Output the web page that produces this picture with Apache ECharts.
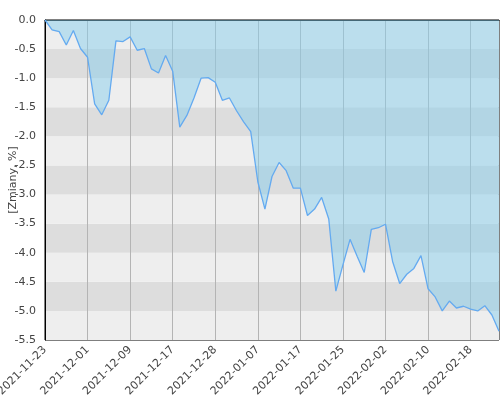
<!DOCTYPE html>
<html>
  <head>
    <meta charset="UTF-8" />
    <title>Zmiany %</title>
    <style>
      html, body { margin: 0; padding: 0; background: #fff; }
      #chart { width: 500px; height: 400px; }
    </style>
    <script type="text/javascript" src="https://cdn.jsdelivr.net/npm/echarts@6/dist/echarts.min.js"></script>
  </head>
  <body>
    <div id="chart"></div>
    <script>
      // dni sesyjne
      const dates = [
        "2021-11-23", "2021-11-24", "2021-11-25", "2021-11-26", "2021-11-29", "2021-11-30",
        "2021-12-01", "2021-12-02", "2021-12-03", "2021-12-06", "2021-12-07", "2021-12-08",
        "2021-12-09", "2021-12-10", "2021-12-13", "2021-12-14", "2021-12-15", "2021-12-16",
        "2021-12-17", "2021-12-20", "2021-12-21", "2021-12-22", "2021-12-23", "2021-12-27",
        "2021-12-28", "2021-12-29", "2021-12-30", "2022-01-03", "2022-01-04", "2022-01-05",
        "2022-01-07", "2022-01-10", "2022-01-11", "2022-01-12", "2022-01-13", "2022-01-14",
        "2022-01-17", "2022-01-18", "2022-01-19", "2022-01-20", "2022-01-21", "2022-01-24",
        "2022-01-25", "2022-01-26", "2022-01-27", "2022-01-28", "2022-01-31", "2022-02-01",
        "2022-02-02", "2022-02-03", "2022-02-04", "2022-02-07", "2022-02-08", "2022-02-09",
        "2022-02-10", "2022-02-11", "2022-02-14", "2022-02-15", "2022-02-16", "2022-02-17",
        "2022-02-18", "2022-02-21", "2022-02-22", "2022-02-23", "2022-02-24"
      ];

      const changes = [
        0.00, -0.17, -0.20, -0.43, -0.18, -0.49, -0.64, -1.44, -1.63, -1.38,
        -0.36, -0.37, -0.29, -0.52, -0.49, -0.84, -0.91, -0.61, -0.88, -1.84,
        -1.64, -1.34, -1.00, -0.99, -1.07, -1.38, -1.34, -1.56, -1.75, -1.92,
        -2.78, -3.25, -2.69, -2.45, -2.59, -2.89, -2.89, -3.36, -3.25, -3.05,
        -3.42, -4.66, -4.21, -3.77, -4.06, -4.34, -3.60, -3.57, -3.51, -4.15,
        -4.53, -4.37, -4.27, -4.05, -4.62, -4.76, -5.00, -4.83, -4.95, -4.92,
        -4.97, -5.00, -4.91, -5.07, -5.35
      ];

      const yMin = -5.5;
      const yMax = 0;
      const yStep = 0.5;

      const chart = echarts.init(document.getElementById("chart"));

      chart.setOption({
        animation: false,
        textStyle: { fontFamily: "DejaVu Sans" },
        grid: {
          left: 45,
          right: 1,
          top: 20,
          bottom: 60,
          outerBoundsMode: "none",
          containLabel: false,
          show: true,
          borderColor: "#000",
          borderWidth: 1
        },
        xAxis: {
          type: "category",
          data: dates,
          boundaryGap: false,
          axisLine: { show: true, lineStyle: { color: "#000", width: 1 } },
          axisTick: { show: false },
          axisLabel: {
            interval: 5,
            rotate: 45,
            color: "#444",
            fontSize: 11,
            margin: 8
          },
          splitLine: {
            show: true,
            interval: 5,
            lineStyle: { color: "#b4b4b4", width: 1 }
          }
        },
        yAxis: {
          type: "value",
          min: yMin,
          max: yMax,
          interval: yStep,
          name: "[Zmiany, %]",
          nameLocation: "middle",
          nameGap: 26,
          nameRotate: 90,
          nameMoveOverlap: false,
          nameTextStyle: { color: "#444", fontSize: 11 },
          axisLine: { show: true, lineStyle: { color: "#000", width: 1 } },
          axisTick: { show: false },
          axisLabel: {
            color: "#444",
            fontSize: 11,
            margin: 9,
            formatter: (v) => v.toFixed(1)
          },
          splitLine: { show: false },
          splitArea: {
            show: true,
            areaStyle: { color: ["#eeeeee", "#dddddd"] }
          }
        },
        series: [
          {
            type: "line",
            data: changes,
            symbol: "none",
            lineStyle: { color: "#64aaf0", width: 1.3 },
            areaStyle: { color: "rgba(135,206,235,0.5)", opacity: 1, origin: "end" }
          }
        ]
      });
    </script>
  </body>
</html>
